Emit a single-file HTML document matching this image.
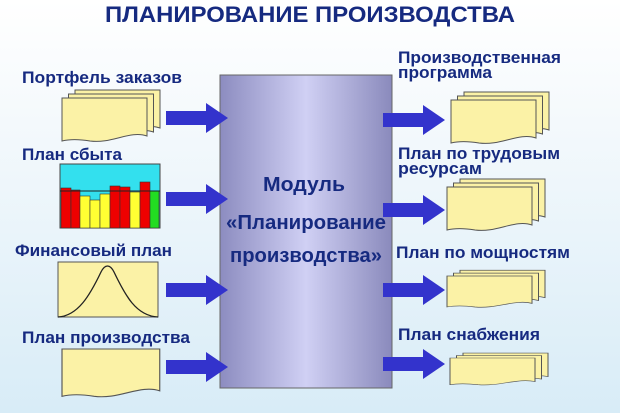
<!DOCTYPE html>
<html><head><meta charset="utf-8"><style>
html,body{margin:0;padding:0}
body{width:620px;height:413px;overflow:hidden;background:linear-gradient(#ffffff 0%,#f4f9fc 30%,#d8ecf7 100%)}
svg{display:block}
text{font-family:"Liberation Sans",sans-serif;fill:#162a80;font-weight:bold}
</style></head><body>
<svg width="620" height="413" viewBox="0 0 620 413">
<defs>
<linearGradient id="box" x1="0" x2="1" y1="0" y2="0">
<stop offset="0" stop-color="#8c8cc0"/><stop offset="0.5" stop-color="#d0d0f4"/><stop offset="1" stop-color="#8a8abc"/>
</linearGradient>
<g id="doc"><path d="M0,0 H85 V38 C68,32 50,46 28,43 C16,41 8,41 0,43 Z" fill="#fbf2a6" stroke="#555" stroke-width="1"/></g>
<g id="stack"><use href="#doc" x="13" y="-8"/><use href="#doc" x="6.5" y="-4"/><use href="#doc"/></g>
<g id="arr"><path d="M0,-7 H40 V-15 L62,0 L40,15 V7 H0 Z" fill="#3333cc"/></g>
</defs>
<text x="310" y="22" text-anchor="middle" font-size="22" textLength="410" lengthAdjust="spacingAndGlyphs">ПЛАНИРОВАНИЕ ПРОИЗВОДСТВА</text>

<rect x="220" y="75" width="172" height="313" fill="url(#box)" stroke="#666" stroke-width="1"/>
<text x="304" y="191" text-anchor="middle" font-size="20" textLength="82" lengthAdjust="spacingAndGlyphs">Модуль</text>
<text x="306" y="229" text-anchor="middle" font-size="20" textLength="160" lengthAdjust="spacingAndGlyphs">«Планирование</text>
<text x="306" y="262" text-anchor="middle" font-size="20" textLength="152" lengthAdjust="spacingAndGlyphs">производства»</text>

<!-- left labels -->
<text x="22" y="83" font-size="17" textLength="160" lengthAdjust="spacingAndGlyphs">Портфель заказов</text>
<text x="22" y="160" font-size="17" textLength="100" lengthAdjust="spacingAndGlyphs">План сбыта</text>
<text x="15" y="256" font-size="17" textLength="157" lengthAdjust="spacingAndGlyphs">Финансовый план</text>
<text x="22" y="343" font-size="17" textLength="168" lengthAdjust="spacingAndGlyphs">План производства</text>

<use href="#stack" x="62" y="98"/>
<!-- chart -->
<rect x="60" y="164" width="100" height="64" fill="#33e0ee" stroke="#444"/>
<g stroke="#333" stroke-width="0.6">
<rect x="61" y="188" width="10" height="40" fill="#ee0000"/>
<rect x="71" y="190" width="9" height="38" fill="#ee0000"/>
<rect x="80" y="196" width="10" height="32" fill="#ffff33"/>
<rect x="90" y="200" width="10" height="28" fill="#ffff33"/>
<rect x="100" y="194" width="10" height="34" fill="#ffff33"/>
<rect x="110" y="186" width="10" height="42" fill="#ee0000"/>
<rect x="120" y="187" width="10" height="41" fill="#ee0000"/>
<rect x="130" y="192" width="10" height="36" fill="#ffff33"/>
<rect x="140" y="182" width="10" height="46" fill="#ee0000"/>
<rect x="150" y="191" width="9" height="37" fill="#22dd22"/>
</g>
<line x1="60" y1="191" x2="160" y2="191" stroke="#222" stroke-width="1"/>
<!-- financial -->
<rect x="58" y="262" width="100" height="55" fill="#fbf2a6" stroke="#555"/>
<path d="M58,317 C78,316 90,295 101,272 C105,264 110,264 114,272 C125,295 136,316 158,317" fill="none" stroke="#222" stroke-width="1.3"/>
<g transform="translate(62,349) scale(1.15,1.1)"><use href="#doc"/></g>

<use href="#arr" x="166" y="118"/>
<use href="#arr" x="166" y="199"/>
<use href="#arr" x="166" y="290"/>
<use href="#arr" x="166" y="367"/>

<!-- right -->
<text x="398" y="63" font-size="17" textLength="163" lengthAdjust="spacingAndGlyphs">Производственная</text>
<text x="398" y="78" font-size="17" textLength="94" lengthAdjust="spacingAndGlyphs">программа</text>
<text x="398" y="159" font-size="17" textLength="162" lengthAdjust="spacingAndGlyphs">План по трудовым</text>
<text x="398" y="174" font-size="17" textLength="84" lengthAdjust="spacingAndGlyphs">ресурсам</text>
<text x="396" y="258" font-size="17" textLength="174" lengthAdjust="spacingAndGlyphs">План по мощностям</text>
<text x="398" y="340" font-size="17" textLength="142" lengthAdjust="spacingAndGlyphs">План снабжения</text>

<use href="#arr" x="383" y="120"/>
<use href="#arr" x="383" y="210"/>
<use href="#arr" x="383" y="290"/>
<use href="#arr" x="383" y="364"/>

<use href="#stack" x="451" y="100"/>
<use href="#stack" x="447" y="187"/>
<use href="#stack" transform="translate(447,276) scale(1,0.72)"/>
<use href="#stack" transform="translate(450,358) scale(1,0.62)"/>
</svg>
</body></html>
